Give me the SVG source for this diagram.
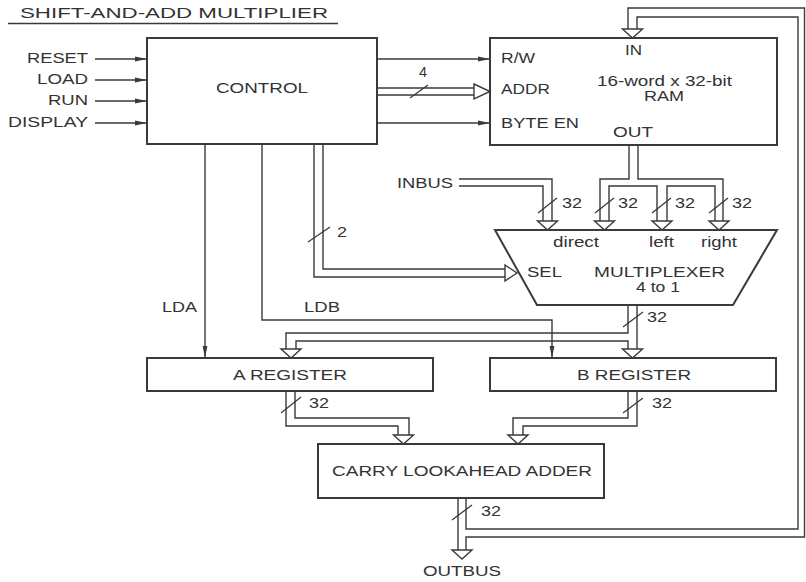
<svg xmlns="http://www.w3.org/2000/svg" width="806" height="582" viewBox="0 0 806 582">
<style>
.box{fill:#fff;stroke:#3a3a3a;stroke-width:2}
.ln{fill:none;stroke:#3a3a3a;stroke-width:1.4}
.hd{fill:#fff;stroke:#3a3a3a;stroke-width:1.4;stroke-linejoin:miter}
.sl{stroke:#3a3a3a;stroke-width:1.3}
text{font-family:"Liberation Sans",Arial,sans-serif;font-size:14px;fill:#333}
.t{font-size:15px}
</style>
<defs>
<marker id="ar" markerUnits="userSpaceOnUse" markerWidth="13" markerHeight="6" refX="12" refY="3" orient="auto">
<path d="M0,0.6 L12,3 L0,5.4 Z" fill="#3a3a3a"/>
</marker>
<path id="hv" d="M-10,-9 L10,-9 L0,0 Z"/>
</defs>
<rect width="806" height="582" fill="#fff"/>
<text class="t" x="20" y="18" textLength="308" lengthAdjust="spacingAndGlyphs">SHIFT-AND-ADD MULTIPLIER</text>
<line x1="8" y1="23.5" x2="338" y2="23.5" class="sl"/>

<g id="control">
<rect class="box" x="147" y="38" width="230" height="106"/>
<text x="216" y="93" textLength="92" lengthAdjust="spacingAndGlyphs">CONTROL</text>
</g>
<g id="ram">
<rect class="box" x="490" y="38" width="287" height="107"/>
<text x="625" y="55" textLength="17" lengthAdjust="spacingAndGlyphs">IN</text>
<text x="501" y="63" textLength="34" lengthAdjust="spacingAndGlyphs">R/W</text>
<text x="501" y="94" textLength="49" lengthAdjust="spacingAndGlyphs">ADDR</text>
<text x="501" y="128" textLength="78" lengthAdjust="spacingAndGlyphs">BYTE EN</text>
<text x="597" y="86" textLength="135" lengthAdjust="spacingAndGlyphs">16-word x 32-bit</text>
<text x="644" y="101" textLength="40" lengthAdjust="spacingAndGlyphs">RAM</text>
<text x="613" y="137" textLength="40" lengthAdjust="spacingAndGlyphs">OUT</text>
</g>
<g id="mux">
<polygon class="box" points="495,230 777,230 733,305 537,305"/>
<text x="553" y="247" textLength="46" lengthAdjust="spacingAndGlyphs">direct</text>
<text x="649" y="247" textLength="25" lengthAdjust="spacingAndGlyphs">left</text>
<text x="701" y="247" textLength="36" lengthAdjust="spacingAndGlyphs">right</text>
<text x="527" y="277" textLength="35" lengthAdjust="spacingAndGlyphs">SEL</text>
<text x="594" y="277" textLength="131" lengthAdjust="spacingAndGlyphs">MULTIPLEXER</text>
<text x="636" y="292" textLength="44" lengthAdjust="spacingAndGlyphs">4 to 1</text>
</g>
<g id="areg">
<rect class="box" x="147" y="358" width="286" height="33"/>
<text x="233" y="380" textLength="114" lengthAdjust="spacingAndGlyphs">A REGISTER</text>
</g>
<g id="breg">
<rect class="box" x="490" y="358" width="286" height="33"/>
<text x="577" y="380" textLength="114" lengthAdjust="spacingAndGlyphs">B REGISTER</text>
</g>
<g id="adder">
<rect class="box" x="318" y="444" width="286" height="54"/>
<text x="332" y="476" textLength="260" lengthAdjust="spacingAndGlyphs">CARRY LOOKAHEAD ADDER</text>
</g>

<g id="connectors">
<!-- control inputs -->
<line class="ln" x1="95" y1="59" x2="147" y2="59" marker-end="url(#ar)"/>
<line class="ln" x1="95" y1="80" x2="147" y2="80" marker-end="url(#ar)"/>
<line class="ln" x1="95" y1="101" x2="147" y2="101" marker-end="url(#ar)"/>
<line class="ln" x1="95" y1="123" x2="147" y2="123" marker-end="url(#ar)"/>
<text x="27" y="63" textLength="61" lengthAdjust="spacingAndGlyphs">RESET</text>
<text x="37" y="84" textLength="51" lengthAdjust="spacingAndGlyphs">LOAD</text>
<text x="48" y="105" textLength="40" lengthAdjust="spacingAndGlyphs">RUN</text>
<text x="8" y="127" textLength="80" lengthAdjust="spacingAndGlyphs">DISPLAY</text>
<!-- control to RAM -->
<line class="ln" x1="377" y1="59" x2="490" y2="59" marker-end="url(#ar)"/>
<line class="ln" x1="377" y1="123" x2="490" y2="123" marker-end="url(#ar)"/>
<path class="ln" d="M377,88 H474 M377,95 H474"/>
<polygon class="hd" points="474,84 490,91.5 474,99"/>
<line class="sl" x1="410" y1="98" x2="428" y2="85"/>
<text x="419" y="77" textLength="8" lengthAdjust="spacingAndGlyphs">4</text>
<!-- feedback to RAM IN -->
<path class="ln" d="M628,30 V8 H804.5 V537 H466 V550"/>
<path class="ln" d="M637,30 V17 H798 V529 H466 V498"/>
<use href="#hv" class="hd" transform="translate(632.5,38)"/>
<!-- RAM OUT to mux -->
<path class="ln" d="M629,145 V179 H600 V221"/>
<path class="ln" d="M638,145 V179 H723 V221"/>
<path class="ln" d="M609,221 V186 H657 V221"/>
<path class="ln" d="M667,221 V186 H715 V221"/>
<!-- INBUS -->
<path class="ln" d="M459,179 H552 V221"/>
<path class="ln" d="M459,186 H543 V221"/>
<text x="397" y="188" textLength="56" lengthAdjust="spacingAndGlyphs">INBUS</text>
<use href="#hv" class="hd" transform="translate(547.5,230)"/>
<use href="#hv" class="hd" transform="translate(604.5,230)"/>
<use href="#hv" class="hd" transform="translate(662,230)"/>
<use href="#hv" class="hd" transform="translate(719,230)"/>
<line class="sl" x1="538" y1="213" x2="557" y2="198"/>
<line class="sl" x1="595" y1="213" x2="614" y2="198"/>
<line class="sl" x1="652" y1="213" x2="671" y2="198"/>
<line class="sl" x1="709" y1="213" x2="728" y2="198"/>
<text x="562" y="208" textLength="20" lengthAdjust="spacingAndGlyphs">32</text>
<text x="618" y="208" textLength="20" lengthAdjust="spacingAndGlyphs">32</text>
<text x="675" y="208" textLength="20" lengthAdjust="spacingAndGlyphs">32</text>
<text x="732" y="208" textLength="20" lengthAdjust="spacingAndGlyphs">32</text>
<!-- SEL -->
<path class="ln" d="M314,144 V277 H505"/>
<path class="ln" d="M323,144 V269 H505"/>
<polygon class="hd" points="505,265 517,273 505,281"/>
<line class="sl" x1="308" y1="242" x2="330" y2="227"/>
<text x="337" y="237" textLength="10" lengthAdjust="spacingAndGlyphs">2</text>
<!-- LDA / LDB -->
<line class="ln" x1="205" y1="144" x2="205" y2="358" marker-end="url(#ar)"/>
<text x="162" y="312" textLength="35" lengthAdjust="spacingAndGlyphs">LDA</text>
<path class="ln" d="M262,144 V320 H552 V358" marker-end="url(#ar)"/>
<text x="304" y="312" textLength="36" lengthAdjust="spacingAndGlyphs">LDB</text>
<!-- mux out to registers -->
<path class="ln" d="M628,305 V333 H286 V350"/>
<path class="ln" d="M637,305 V350"/>
<path class="ln" d="M296,350 V341 H628 V350"/>
<use href="#hv" class="hd" transform="translate(291,358)"/>
<use href="#hv" class="hd" transform="translate(632.5,358)"/>
<line class="sl" x1="623" y1="327" x2="643" y2="312"/>
<text x="647" y="322" textLength="20" lengthAdjust="spacingAndGlyphs">32</text>
<!-- A out -->
<path class="ln" d="M286,391 V426 H398 V435"/>
<path class="ln" d="M295,391 V418 H409 V435"/>
<use href="#hv" class="hd" transform="translate(403.5,444)"/>
<line class="sl" x1="281" y1="413" x2="301" y2="397"/>
<text x="309" y="408" textLength="20" lengthAdjust="spacingAndGlyphs">32</text>
<!-- B out -->
<path class="ln" d="M628,391 V418 H513 V435"/>
<path class="ln" d="M637,391 V426 H523 V435"/>
<use href="#hv" class="hd" transform="translate(518,444)"/>
<line class="sl" x1="623" y1="413" x2="643" y2="398"/>
<text x="652" y="408" textLength="20" lengthAdjust="spacingAndGlyphs">32</text>
<!-- adder out -->
<path class="ln" d="M458,498 V550"/>
<use href="#hv" class="hd" transform="translate(462,559)"/>
<line class="sl" x1="452" y1="520" x2="472" y2="505"/>
<text x="481" y="516" textLength="20" lengthAdjust="spacingAndGlyphs">32</text>
<text x="423" y="576" textLength="78" lengthAdjust="spacingAndGlyphs">OUTBUS</text>
</g>
</svg>
